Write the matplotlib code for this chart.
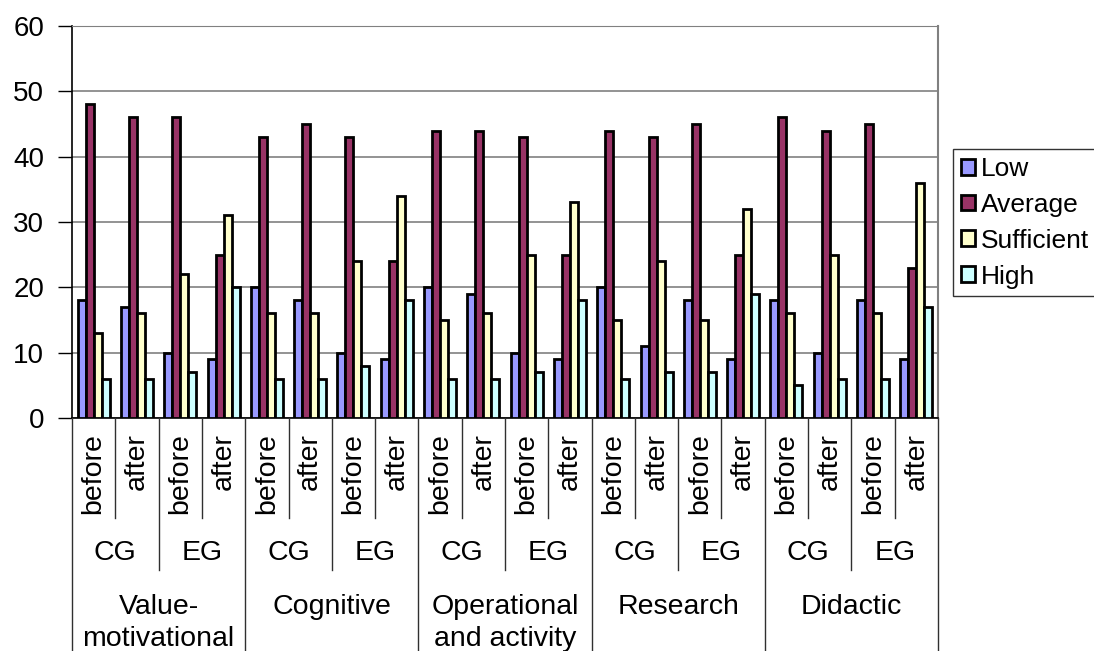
import numpy as np
import matplotlib.pyplot as plt
from matplotlib.transforms import blended_transform_factory
from matplotlib.lines import Line2D

plt.rcParams['font.family'] = ['Liberation Sans', 'DejaVu Sans']

# data, 20 columns: factor x group x stage
factors = ['Value-\nmotivational', 'Cognitive', 'Operational\nand activity', 'Research', 'Didactic']
groups = ['CG', 'EG']
stages = ['before', 'after']
series = ['Low', 'Average', 'Sufficient', 'High']
colors = ['#9999FF', '#993366', '#FFFFCC', '#CCFFFF']

low =        [18, 17, 10, 9,  20, 18, 10, 9,  20, 19, 10, 9,  20, 11, 18, 9,  18, 10, 18, 9]
average =    [48, 46, 46, 25, 43, 45, 43, 24, 44, 44, 43, 25, 44, 43, 45, 25, 46, 44, 45, 23]
sufficient = [13, 16, 22, 31, 16, 16, 24, 34, 15, 16, 25, 33, 15, 24, 15, 32, 16, 25, 16, 36]
high =       [6, 6, 7, 20, 6, 6, 8, 18, 6, 6, 7, 18, 6, 7, 7, 19, 5, 6, 6, 17]
values = [low, average, sufficient, high]

W, H = 1094, 651
fig = plt.figure(figsize=(W / 100, H / 100), dpi=100)
L, R, T, B = 72, 938, 26, 418
ax = fig.add_axes([L / W, 1 - B / H, (R - L) / W, (B - T) / H])

n = len(low)
x = np.arange(n)
bw = 0.185
for i, (name, vals) in enumerate(zip(series, values)):
    ax.bar(x + (i - 1.5) * bw, vals, bw, color=colors[i], edgecolor='black',
           linewidth=2.0, label=name, zorder=3)

ax.set_xlim(-0.5, n - 0.5)
ax.set_ylim(0, 60)
ax.set_yticks(range(0, 61, 10))
ax.yaxis.grid(True, color='#808080', linewidth=1.2, zorder=0)
ax.set_xticks([])
ax.tick_params(axis='y', length=10, width=1, direction='out', pad=10, labelsize=20)
ax.spines['left'].set_color('black')
ax.spines['bottom'].set_color('black')
ax.spines['left'].set_linewidth(1.2)
ax.spines['bottom'].set_linewidth(1.2)
ax.spines['top'].set_color('#808080')
ax.spines['right'].set_color('#808080')
ax.spines['right'].set_linewidth(1.5)

# multi-level category axis
tr = blended_transform_factory(ax.transData, fig.transFigure)
fy = lambda py: 1 - py / H

for k in range(n + 1):
    xb = k - 0.5
    if k % 4 == 0:
        y_end = H
    elif k % 2 == 0:
        y_end = 570
    else:
        y_end = 518
    fig.add_artist(Line2D([xb, xb], [fy(B), fy(y_end)], transform=tr,
                          color='#303030', linewidth=1.0))

for k in range(n):
    fig.text(k, fy(433), stages[k % 2], transform=tr, rotation=90,
             ha='center', va='top', fontsize=20.5)

for g in range(n // 2):
    fig.text(2 * g + 0.5, fy(553), groups[g % 2], transform=tr,
             ha='center', va='center', fontsize=20.5)

for f, name in enumerate(factors):
    fig.text(4 * f + 1.5, fy(594), name, transform=tr, ha='center', va='top',
             fontsize=20.5, linespacing=1.3)

leg = ax.legend(loc='upper left', bbox_to_anchor=(953 / W, 1 - 149 / H),
                bbox_transform=fig.transFigure, fontsize=19, frameon=True,
                fancybox=False, edgecolor='black', handlelength=0.55,
                handleheight=0.55, handletextpad=0.22, labelspacing=0.45,
                borderpad=0.3, borderaxespad=0)
leg.get_frame().set_linewidth(1.0)

fig.savefig('out.png', dpi=100)
